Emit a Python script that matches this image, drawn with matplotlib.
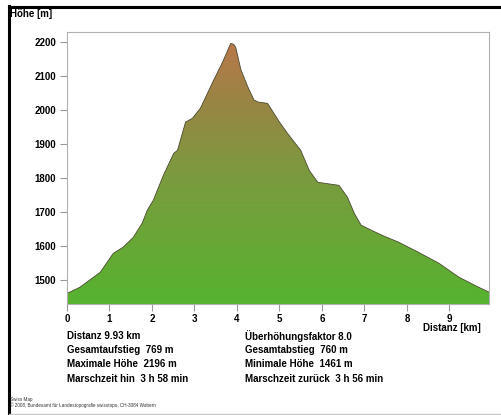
import matplotlib
matplotlib.use("Agg")
import matplotlib.pyplot as plt
import numpy as np
from matplotlib.colors import LinearSegmentedColormap
from matplotlib.lines import Line2D

plt.rcParams["font.family"] = ["Liberation Sans", "DejaVu Sans"]

# elevation profile
dist_km = [0.0, 0.3, 0.78, 1.09, 1.32, 1.56, 1.77, 1.89, 2.03, 2.27, 2.51, 2.6,
           2.79, 2.95, 3.14, 3.45, 3.66, 3.85, 3.92, 3.97, 4.09, 4.25, 4.4,
           4.5, 4.72, 5.0, 5.2, 5.5, 5.7, 5.9, 6.4, 6.6, 6.76, 6.92, 7.16,
           7.47, 7.8, 8.27, 8.75, 9.22, 9.69, 9.93]
height_m = [1461, 1479, 1523, 1579, 1597, 1626, 1668, 1706, 1735, 1809, 1873, 1882,
            1965, 1976, 2006, 2088, 2141, 2196, 2194, 2185, 2120, 2070, 2030,
            2024, 2020, 1965, 1930, 1882, 1823, 1788, 1779, 1744, 1697, 1662, 1647,
            1629, 1612, 1582, 1550, 1509, 1479, 1465]

x_ticks = [0, 1, 2, 3, 4, 5, 6, 7, 8, 9]
y_ticks = [1500, 1600, 1700, 1800, 1900, 2000, 2100, 2200]

stats_left = ["Distanz 9.93 km", "Gesamtaufstieg  769 m",
              "Maximale Höhe  2196 m", "Marschzeit hin  3 h 58 min"]
stats_right = ["Überhöhungsfaktor 8.0", "Gesamtabstieg  760 m",
               "Minimale Höhe  1461 m", "Marschzeit zurück  3 h 56 min"]

W, H = 502, 415
fig = plt.figure(figsize=(W / 100, H / 100), dpi=100)
ax = fig.add_axes([67 / W, 1 - 304 / H, (489 - 67) / W, (304 - 32) / H])

ymin, ymax = 1430, 2230
ax.set_xlim(0, 9.93)
ax.set_ylim(ymin, ymax)

# gradient fill clipped to the profile
cmap = LinearSegmentedColormap.from_list(
    "alp", [(0.0, "#56b32f"), (0.5, "#7c9a3f"), (0.78, "#9a8444"), (1.0, "#b9784a")])
grad = np.linspace(0, 1, 256).reshape(-1, 1)
img = ax.imshow(grad, extent=[0, 9.93, ymin, 2200], origin="lower",
                aspect="auto", cmap=cmap, zorder=1)
poly = ax.fill_between(dist_km, height_m, ymin, color="none", lw=0)
path = poly.get_paths()[0]
img.set_clip_path(path, transform=ax.transData)
ax.plot(dist_km, height_m, color="#4a4a30", lw=0.6, zorder=2)

for s in ax.spines.values():
    s.set_color("#b0b0b0")
    s.set_linewidth(0.8)
ax.tick_params(colors="#999999", length=5, width=0.8, labelcolor="black",
               labelsize=7, pad=3)
ax.tick_params(axis="x", pad=2)
ax.set_xticks(x_ticks)
ax.set_yticks(y_ticks)
for lbl in ax.get_xticklabels() + ax.get_yticklabels():
    lbl.set_fontweight("bold")

fig.text(10 / W, 1 - 14 / H, "Höhe [m]", fontsize=7, fontweight="bold", va="center")
fig.text(481 / W, 1 - 328 / H, "Distanz [km]", fontsize=7, fontweight="bold",
         va="center", ha="right")

rows_y = [336, 350, 364, 379]
for y, a, b in zip(rows_y, stats_left, stats_right):
    fig.text(67 / W, 1 - y / H, a, fontsize=7, fontweight="bold", va="center")
    fig.text(245 / W, 1 - y / H, b, fontsize=7, fontweight="bold", va="center")

fig.text(10 / W, 1 - 399 / H, "Swiss Map", fontsize=3.3, va="center", color="#333333")
fig.text(10 / W, 1 - 405 / H,
         "© 2008, Bundesamt für Landestopografie swisstopo, CH-3084 Wabern",
         fontsize=3.3, va="center", color="#333333")

# frame lines around the panel
fig.add_artist(Line2D([9 / W, 1], [1 - 7 / H, 1 - 7 / H], color="black", lw=2.2))
fig.add_artist(Line2D([9 / W, 9 / W], [1 - 6 / H, 0], color="black", lw=2.2))
fig.add_artist(Line2D([9 / W, 1], [1 - 413.5 / H, 1 - 413.5 / H], color="#c8c8c8", lw=1))

fig.savefig("out.png", dpi=100)
